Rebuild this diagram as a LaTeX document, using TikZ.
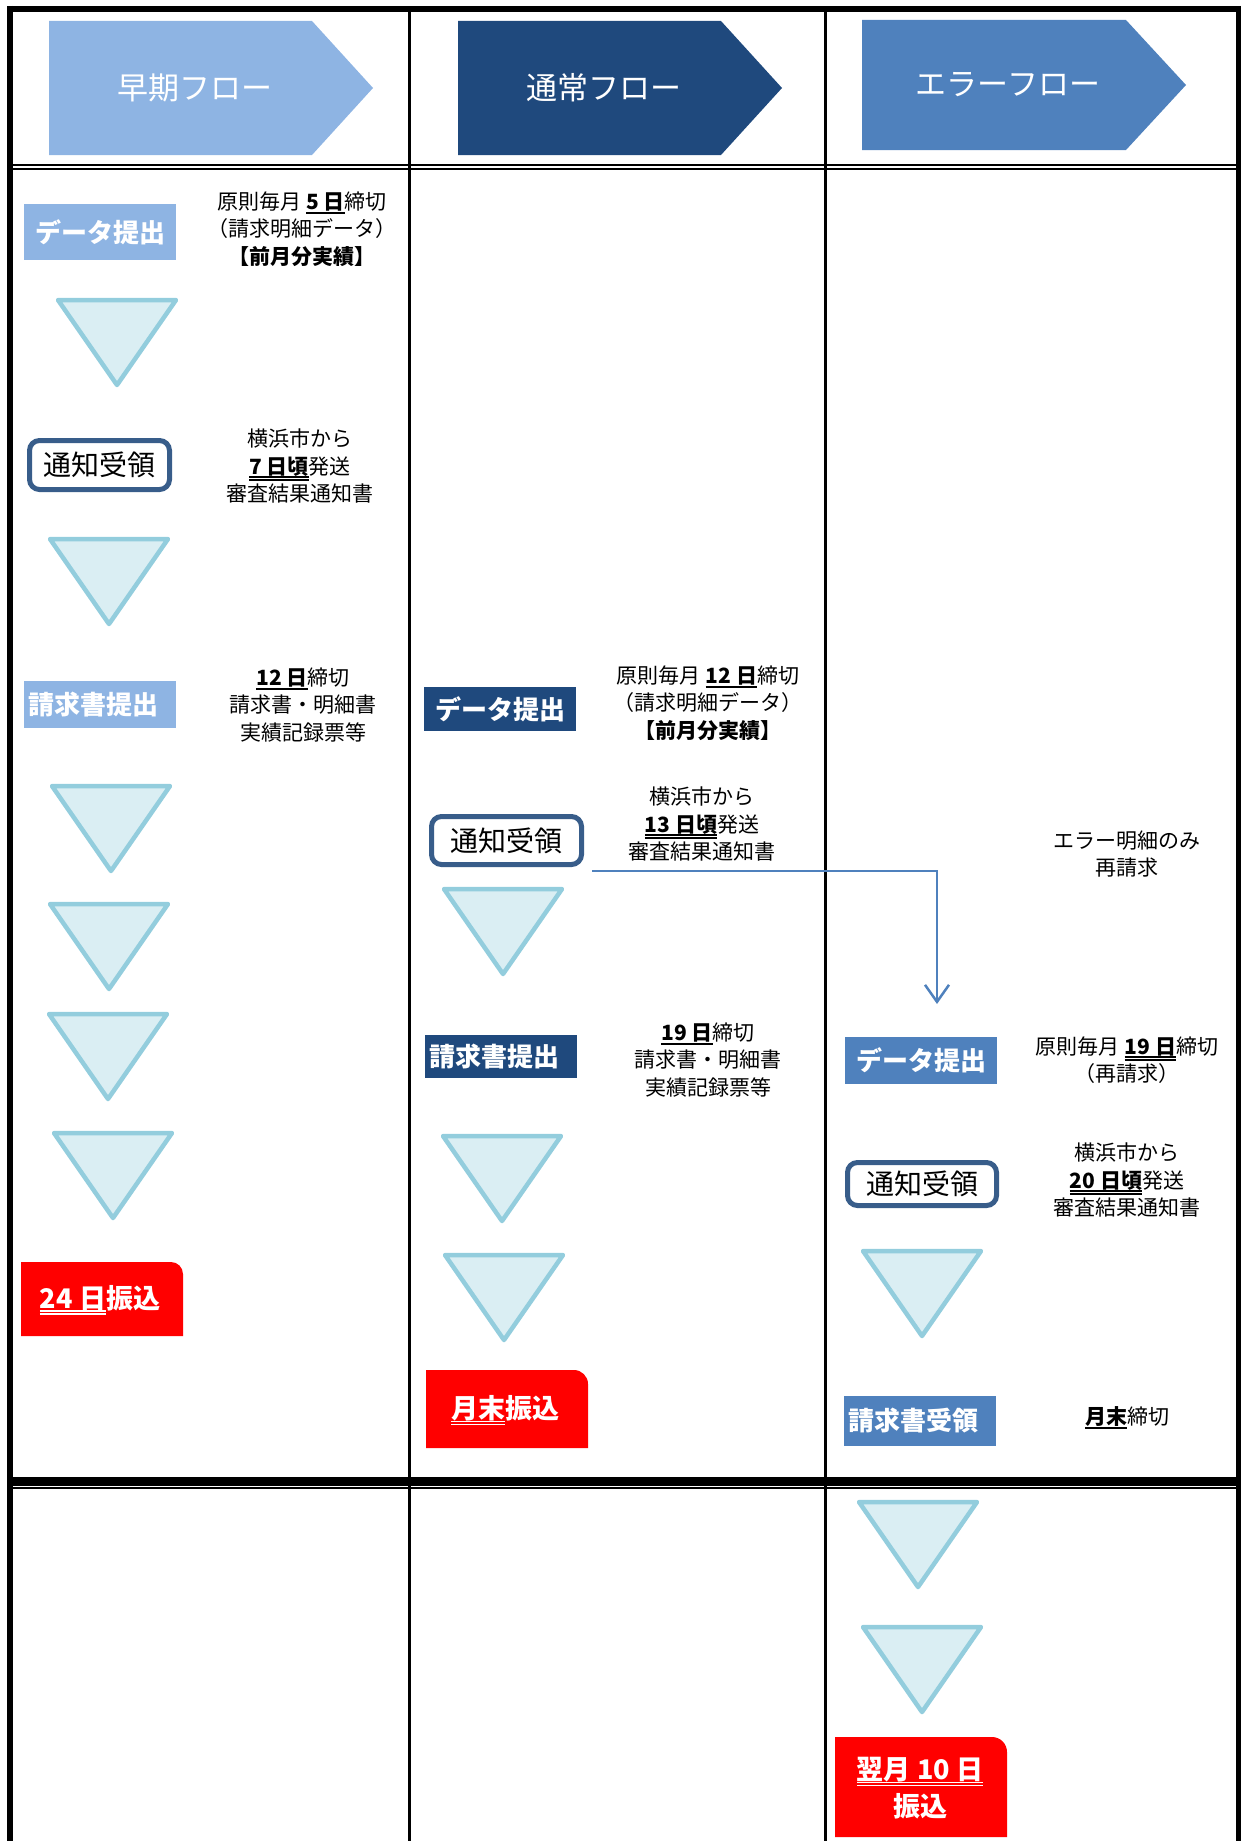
\documentclass[tikz,border=0pt]{standalone}
\usepackage{fontspec}
\setmainfont{Noto Sans CJK JP}
\usetikzlibrary{arrows.meta, positioning}
\definecolor{earlyblue}{RGB}{142,180,227}
\definecolor{normalblue}{RGB}{31,73,125}
\definecolor{errorblue}{RGB}{79,129,189}
\definecolor{noticeblue}{RGB}{56,93,138}
\definecolor{triline}{RGB}{147,205,221}
\definecolor{trifill}{RGB}{218,238,243}
\definecolor{payred}{RGB}{255,0,0}
\newcommand{\memofont}{\fontsize{21}{27.5}\selectfont}
\newcommand{\boxfont}{\fontsize{26}{30}\selectfont\bfseries}
\newcommand{\noticefont}{\fontsize{28}{32}\selectfont}
\newcommand{\bannerfont}{\fontsize{31}{36}\selectfont}
\newcommand{\payfont}{\fontsize{27}{37}\selectfont\bfseries}
\newlength{\ulwd}
\newcommand{\thkul}[1]{\settowidth{\ulwd}{#1}\rlap{\rule[-4.5pt]{\ulwd}{2.2pt}}#1}
\newcommand{\dblul}[1]{\settowidth{\ulwd}{#1}\rlap{\rule[-3.5pt]{\ulwd}{1.3pt}}\rlap{\rule[-6.5pt]{\ulwd}{1.3pt}}#1}
\tikzset{>=latex}
\tikzset{
	banner/.style={text=white, font=\bannerfont},
	flowbox/.style={text=white, font=\boxfont, inner sep=0pt, minimum width=152pt, minimum height=46pt},
	earlybox/.style={flowbox, fill=earlyblue},
	normalbox/.style={flowbox, fill=normalblue},
	errorbox/.style={flowbox, fill=errorblue},
	leftbox/.style={text width=144pt, align=left, inner xsep=4pt},
	notice/.style={draw=noticeblue, line width=5pt, rounded corners=10pt, fill=white, font=\noticefont, inner sep=0pt, minimum width=142pt, minimum height=49pt},
	memo/.style={align=center, font=\memofont},
	tri/.style={draw=triline, fill=trifill, line width=4.5pt, line join=round},
	paytext/.style={text=white, font=\payfont, align=center},
	relay/.style={draw=errorblue, line width=2.5pt, -{Straight Barb[length=17pt,width=24pt]}},
	tableline/.style={draw=black, line width=3pt}
}

\begin{document}
\begin{tikzpicture}[x=1pt, y=-1pt]
		\useasboundingbox (0,0) rectangle (1241,1841);
		
		% table
		\draw[tableline] (409.5,12) -- (409.5,1841);
		\draw[tableline] (825.5,12) -- (825.5,1841);
		\draw[tableline, line width=2pt] (10,165) -- (1238,165);
		\draw[tableline, line width=2pt] (10,168.5) -- (1238,168.5);
		\draw[tableline, line width=9pt] (10,1481.5) -- (1238,1481.5);
		\draw[tableline, line width=2pt] (10,1488) -- (1238,1488);
		\draw[tableline, line width=6pt] (7,9) -- (1241,9);
		\draw[tableline, line width=6pt] (10,6) -- (10,1841);
		\draw[tableline, line width=5pt] (1238.5,6) -- (1238.5,1841);
		
		% headers
		\fill[earlyblue] (49,21) -- (312,21) -- (373,88) -- (312,155) -- (49,155) -- cycle;
		\node[banner] (early) at (195,88) {早期フロー};
		\fill[normalblue] (458,21) -- (721,21) -- (782,88) -- (721,155) -- (458,155) -- cycle;
		\node[banner] (normal) at (604,88) {通常フロー};
		\fill[errorblue] (862,20) -- (1126,20) -- (1186,85) -- (1126,150) -- (862,150) -- cycle;
		\node[banner] (error) at (1008,85) {エラーフロー};
		
		% early flow
		\node[earlybox, minimum height=56pt] (d1) at (100,232) {データ提出};
		\node[memo] (m1) at (302,229) {原則毎月 \thkul{\textbf{5 日}}締切\\（請求明細データ）\\\textbf{【前月分実績】}};
		\draw[tri] (58,300) -- ++(118,0) -- ++(-59,85) -- cycle;
		\node[notice, minimum width=140pt] (n1) at (99.5,465) {通知受領};
		\node[memo] (m2) at (300,466) {横浜市から\\\dblul{\textbf{7 日頃}}発送\\審査結果通知書};
		\draw[tri] (50,539) -- ++(118,0) -- ++(-59,85) -- cycle;
		\node[earlybox, leftbox, minimum height=47pt] (r1) at (100,704.5) {請求書提出};
		\node[memo] (m3) at (303,705) {\thkul{\textbf{12 日}}締切\\請求書・明細書\\実績記録票等};
		\draw[tri] (52,786) -- ++(118,0) -- ++(-59,85) -- cycle;
		\draw[tri] (50,904) -- ++(118,0) -- ++(-59,85) -- cycle;
		\draw[tri] (49,1014) -- ++(118,0) -- ++(-59,85) -- cycle;
		\draw[tri] (54,1133) -- ++(118,0) -- ++(-59,85) -- cycle;
		\fill[payred] (21,1336) -- (21,1262) -- (171,1262) .. controls (177.6,1262) and (183,1267.4) .. (183,1274) -- (183,1336) -- cycle;
		\node[paytext] (pay24) at (100,1300) {\dblul{24 日}振込};
		
		% normal flow
		\node[normalbox, minimum height=44pt] (d2) at (500,709) {データ提出};
		\node[memo] (m4) at (708,703) {原則毎月 \thkul{\textbf{12 日}}締切\\（請求明細データ）\\\textbf{【前月分実績】}};
		\node[notice, minimum width=150pt, minimum height=48pt] (n2) at (506.5,840.5) {通知受領};
		\node[memo] (m5) at (702,824) {横浜市から\\\dblul{\textbf{13 日頃}}発送\\審査結果通知書};
		\draw[tri] (444,889) -- ++(118,0) -- ++(-59,85) -- cycle;
		\node[normalbox, leftbox, minimum height=43pt] (r2) at (501,1056.5) {請求書提出};
		\node[memo] (m6) at (708,1060) {\thkul{\textbf{19 日}}締切\\請求書・明細書\\実績記録票等};
		\draw[tri] (443,1136) -- ++(118,0) -- ++(-59,85) -- cycle;
		\draw[tri] (445,1255) -- ++(118,0) -- ++(-59,85) -- cycle;
		\fill[payred] (426,1448) -- (426,1370) -- (574,1370) .. controls (581.7,1370) and (588,1376.3) .. (588,1384) -- (588,1448) -- cycle;
		\node[paytext] (paymonth) at (505,1410) {\dblul{月末}振込};
		
		% error flow
		\node[memo] (m7) at (1127,854) {エラー明細のみ\\再請求};
		\node[errorbox, minimum height=47pt] (d3) at (921,1060.5) {データ提出};
		\node[memo] (m8) at (1127,1060) {原則毎月 \dblul{\textbf{19 日}}締切\\（再請求）};
		\node[notice, minimum width=149pt, minimum height=43pt] (n3) at (922,1184) {通知受領};
		\node[memo] (m9) at (1127,1180) {横浜市から\\\dblul{\textbf{20 日頃}}発送\\審査結果通知書};
		\draw[tri] (863,1251) -- ++(118,0) -- ++(-59,85) -- cycle;
		\node[errorbox, leftbox, minimum height=50pt] (r3) at (920,1421) {請求書受領};
		\node[memo] (m10) at (1127,1418) {\thkul{\textbf{月末}}締切};
		\draw[tri] (859,1502) -- ++(118,0) -- ++(-59,85) -- cycle;
		\draw[tri] (863,1627) -- ++(118,0) -- ++(-59,85) -- cycle;
		\fill[payred] (835,1837) -- (835,1737) -- (992,1737) .. controls (1000.3,1737) and (1007,1743.7) .. (1007,1752) -- (1007,1837) -- cycle;
		\node[paytext] (paynext) at (920,1788) {\dblul{翌月 10 日}\\振込};
		
		\coordinate (relayend) at (937,1004);
		\draw[relay] ([shift={(8,4)}]n2.south east) -| (relayend);
	\end{tikzpicture}
\end{document}
